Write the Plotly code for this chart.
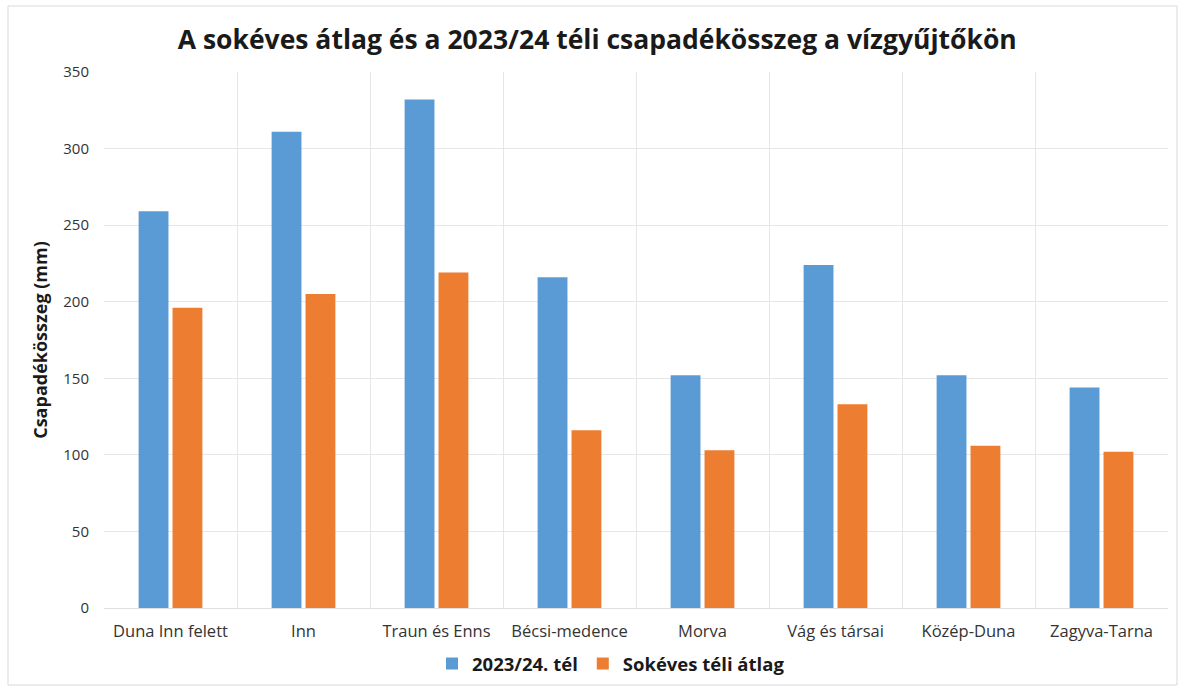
import plotly.graph_objects as go

categories = ["Duna Inn felett", "Inn", "Traun és Enns", "Bécsi-medence",
              "Morva", "Vág és társai", "Közép-Duna", "Zagyva-Tarna"]
winter_2023_24 = [259, 311, 332, 216, 152, 224, 152, 144]
longterm_winter_avg = [196, 205, 219, 116, 103, 133, 106, 102]
series_names = ["2023/24. tél", "Sokéves téli átlag"]

W, H = 1185, 688
L, R, T, B = 104, 17, 72, 80
pw, ph = W - L - R, H - T - B

def px(x):
    return (x - L) / pw

def py(y):
    return (H - B - y) / ph

fig = go.Figure()
fig.add_trace(go.Bar(x=categories, y=winter_2023_24, name=f"<b>{series_names[0]}</b>",
                     marker_color="#5B9BD5", marker_line_width=0))
fig.add_trace(go.Bar(x=categories, y=longterm_winter_avg, name=f"<b>{series_names[1]}</b>",
                     marker_color="#ED7D31", marker_line_width=0))

fig.update_layout(
    width=W, height=H,
    margin=dict(l=L, r=R, t=T, b=B, autoexpand=False),
    paper_bgcolor="white", plot_bgcolor="white",
    barmode="group", bargap=0.49, bargroupgap=0.12,
    font=dict(family="Open Sans", color="#404040"),
    title=dict(text="<b>A sokéves átlag és a 2023/24 téli csapadékösszeg a vízgyűjtőkön</b>",
               x=0.504, xanchor="center", y=1 - 40 / H, yanchor="middle",
               font=dict(size=26.5, color="#1a1a1a")),
    legend=dict(orientation="h", x=px(432), xanchor="left", y=py(664), yanchor="middle",
                font=dict(size=18.5, color="#1a1a1a"), itemwidth=30,
                traceorder="normal"),
    xaxis=dict(tickson="boundaries", showgrid=True, gridcolor="#e6e6e6", gridwidth=1,
               ticks="", showline=True, linecolor="#e0e0e0", ticklabelstandoff=8,
               tickfont=dict(size=16.5, color="#333333"), fixedrange=True),
    yaxis=dict(range=[0, 350], dtick=50, showgrid=True, gridcolor="#e6e6e6",
               zeroline=False, ticks="", ticklabelstandoff=14,
               tickfont=dict(size=15, color="#333333"),
               title=dict(text="<b>Csapadékösszeg (mm)</b>", standoff=10,
                          font=dict(size=18, color="#1a1a1a"))),
    shapes=[dict(type="rect", xref="paper", yref="paper",
                 x0=px(8), x1=px(1177), y0=py(685), y1=py(6),
                 line=dict(color="#d9d9d9", width=1), layer="below")],
)

fig.write_html("out.html")
